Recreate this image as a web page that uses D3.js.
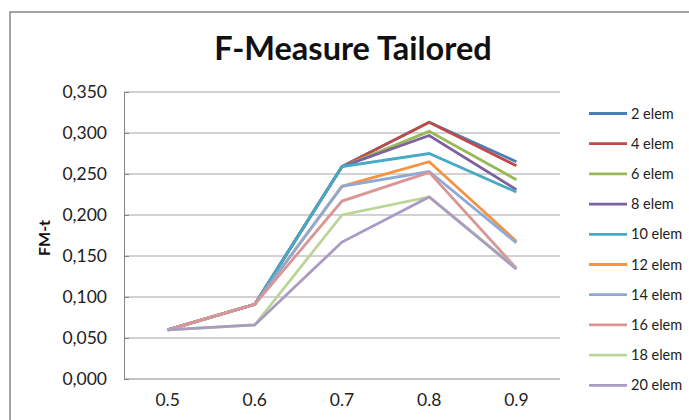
<!DOCTYPE html>
<html><head><meta charset="utf-8">
<script src="https://cdn.jsdelivr.net/npm/d3@7"></script>
<style>body{margin:0;background:#fff}svg{display:block}</style>
</head><body>
<script>
const categories = ["0.5","0.6","0.7","0.8","0.9"];
const seriesNames = ["2 elem","4 elem","6 elem","8 elem","10 elem","12 elem","14 elem","16 elem","18 elem","20 elem"];
const s2  = [0.060,0.091,0.259,0.313,0.265];
const s4  = [0.060,0.091,0.259,0.313,0.260];
const s6  = [0.060,0.091,0.259,0.302,0.243];
const s8  = [0.060,0.091,0.259,0.297,0.231];
const s10 = [0.060,0.091,0.259,0.275,0.228];
const s12 = [0.060,0.091,0.235,0.265,0.168];
const s14 = [0.060,0.091,0.235,0.253,0.166];
const s16 = [0.060,0.091,0.217,0.252,0.135];
const s18 = [0.060,0.066,0.200,0.222,0.135];
const s20 = [0.060,0.066,0.167,0.222,0.134];
const yTicks = [0,0.05,0.10,0.15,0.20,0.25,0.30,0.35];
const colors = ["#4A7EBB","#BE4B48","#98B954","#7D60A0","#46AAC5","#F69240","#8FA9D6","#D99694","#BBD597","#A99BC2"];
const allSeries = [s2,s4,s6,s8,s10,s12,s14,s16,s18,s20];

const W=689,H=420;
const svg=d3.select("body").append("svg").attr("width",W).attr("height",H);
const font="Lato, 'Open Sans', sans-serif";
// outer frame
svg.append("path").attr("d",`M10,${H} L10,12 L${W},12`).attr("fill","none").attr("stroke","#868686").attr("stroke-width",1.5);

const L=124,R=560,T=92,B=379;
const x=d3.scaleBand().domain(categories).range([L,R]);
const y=d3.scaleLinear().domain([0,0.35]).range([B,T]);

// gridlines
svg.append("g").selectAll("line").data(yTicks.slice(1)).join("line")
 .attr("x1",L).attr("x2",R).attr("y1",d=>y(d)).attr("y2",d=>y(d))
 .attr("stroke","#a6a6a6").attr("stroke-width",1.2);

// y axis
const fmt=d=>d3.format(".3f")(d).replace(".",",");
const ya=svg.append("g").attr("transform",`translate(${L},0)`)
 .call(d3.axisLeft(y).tickValues(yTicks).tickFormat(fmt).tickSize(-5).tickPadding(17));
ya.select(".domain").attr("stroke","#868686");
ya.selectAll(".tick line").attr("stroke","#868686");
ya.selectAll("text").attr("font-family",font).attr("font-size",17.5).attr("fill","#222");

// x axis
const xa=svg.append("g").attr("transform",`translate(0,${B})`)
 .call(d3.axisBottom(x).tickSize(0).tickPadding(15));
xa.select(".domain").attr("stroke","#868686").attr("d",`M${L},0H${R}`);
xa.selectAll("text").attr("font-family",font).attr("font-size",17.5).attr("fill","#222");

// lines
const line=d3.line().x((d,i)=>x(categories[i])+x.bandwidth()/2).y(d=>y(d));
svg.append("g").selectAll("path").data(allSeries).join("path")
 .attr("d",line).attr("fill","none").attr("stroke",(d,i)=>colors[i])
 .attr("stroke-width",2.8).attr("stroke-linejoin","miter");

// title
svg.append("text").attr("x",353).attr("y",60).attr("text-anchor","middle")
 .attr("font-family",font).attr("font-weight","bold").attr("font-size",32.5).attr("fill","#111")
 .text("F-Measure Tailored");
// y label
svg.append("text").attr("transform","translate(50,238) rotate(-90)").attr("text-anchor","middle")
 .attr("font-family",font).attr("font-weight","bold").attr("font-size",16).attr("fill","#111").text("FM-t");

// legend
const lg=svg.append("g").selectAll("g").data(seriesNames).join("g")
 .attr("transform",(d,i)=>`translate(589,${113.5+i*30.2})`);
lg.append("line").attr("x1",0).attr("x2",38).attr("stroke",(d,i)=>colors[i]).attr("stroke-width",2.8);
lg.append("text").attr("x",42).attr("dy","0.35em").attr("font-family",font).attr("font-size",14.5).attr("fill","#222").text(d=>d);
</script>
</body></html>
